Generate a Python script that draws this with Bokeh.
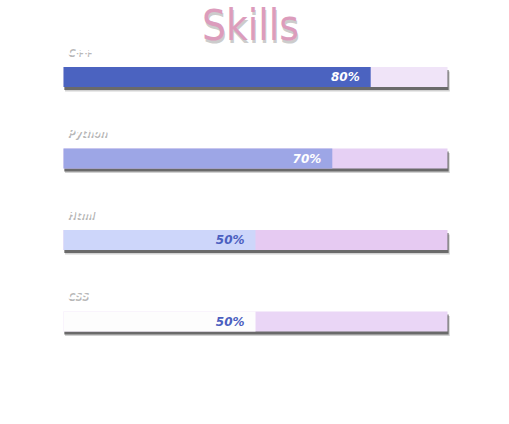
from bokeh.plotting import figure
from bokeh.models import Range1d, ColumnDataSource
from bokeh.embed import file_html
from bokeh.resources import INLINE
from bokeh.core.properties import value

skills = ["C++", "Python", "Html", "CSS"]
percent = [80, 70, 50, 50]
fill_colors = ["#4b63c0", "#9da6e6", "#cdd6fa", "#fdfdfd"]
track_colors = ["#f0e4f8", "#e6d0f4", "#e6caf2", "#ead6f6"]
label_colors = ["#ffffff", "#ffffff", "#4b5fc0", "#4b5fc0"]
title_text = "Skills"

W, H = 509, 424
px_x = 3.84          # pixels per percent
px_y = 81.5          # pixels per row
x0_px, y0_px = 63, 76.5

p = figure(width=W, height=H, output_backend="svg", toolbar_location=None,
           x_range=Range1d(-x0_px / px_x, (W - x0_px) / px_x),
           y_range=Range1d((H - y0_px) / px_y, -y0_px / px_y),
           min_border=0, outline_line_color=None)
p.axis.visible = False
p.grid.visible = False
p.background_fill_color = "white"
p.border_fill_color = "white"

rows = list(range(len(skills)))
bh = 20 / px_y
src = ColumnDataSource(dict(
    y=rows, pct=percent, fill=fill_colors, track=track_colors, lc=label_colors,
    txt=[f"{v}%" for v in percent], name=skills,
    ys1=[r + 3 / px_y for r in rows], ys2=[r + 4.5 / px_y for r in rows],
))

# shadows
p.hbar(y="ys2", left=0.4, right=100.6, height=bh, source=src, fill_color="#000000",
       fill_alpha=0.18, line_color=None)
p.hbar(y="ys1", left=0.2, right=100.3, height=bh, source=src, fill_color="#333333",
       fill_alpha=0.65, line_color=None)
# track
p.hbar(y="y", left=0, right=100, height=bh, source=src, fill_color="track", line_color=None)
# fill
p.hbar(y="y", left=0, right="pct", height=bh, source=src, fill_color="fill", line_color=None)
# percent labels
p.text(x="pct", y="y", text="txt", source=src, text_color="lc", text_align="right",
       text_baseline="middle", x_offset=-11, text_font=value("DejaVu Sans"),
       text_font_size="12px", text_font_style="bold italic")
# skill name labels with shadow
p.text(x=0, y="y", text="name", source=src, text_color="#888888", text_alpha=0.6,
       text_baseline="middle", x_offset=5, y_offset=-24, text_font=value("DejaVu Sans"),
       text_font_size="10px", text_font_style="bold italic")
p.text(x=0, y="y", text="name", source=src, text_color="#ffffff",
       text_baseline="middle", x_offset=4, y_offset=-26, text_font=value("DejaVu Sans"),
       text_font_size="10px", text_font_style="bold italic")

# title with shadow
tx = (250 - x0_px) / px_x
ty = (0 - y0_px) / px_y
title_font = value("DejaVu Sans Condensed, DejaVu Sans")
p.text(x=[tx], y=[ty], text=[title_text], text_color="#999999", text_alpha=0.5,
       text_align="center", text_baseline="top", x_offset=1, y_offset=3,
       text_font=title_font, text_font_size="42px")
p.text(x=[tx], y=[ty], text=[title_text], text_color="#dc9cbc",
       text_align="center", text_baseline="top",
       text_font=title_font, text_font_size="42px")

open("out.html", "w").write(file_html(p, INLINE))
